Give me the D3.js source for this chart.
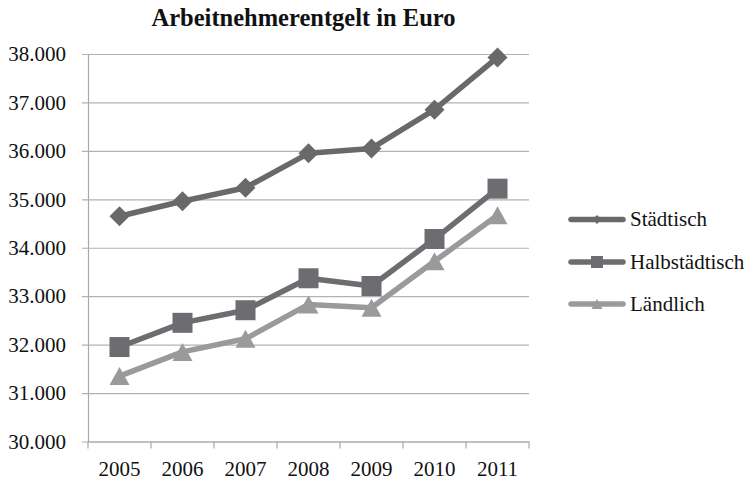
<!DOCTYPE html>
<html><head><meta charset="utf-8">
<script src="https://cdn.jsdelivr.net/npm/d3@7"></script>
<style>body{margin:0;background:#fff}svg{display:block}
text{font-family:"Liberation Serif","DejaVu Serif",serif}</style>
</head><body><svg id="c" width="751" height="480"></svg>
<script>
const years = ["2005","2006","2007","2008","2009","2010","2011"];
const staedtisch = [34650, 34960, 35240, 35950, 36050, 36850, 37930];
const halbstaedtisch = [31950, 32450, 32710, 33370, 33210, 34180, 35220];
const laendlich = [31350, 31850, 32120, 32830, 32760, 33720, 34670];
const yTicks = [30000,31000,32000,33000,34000,35000,36000,37000,38000];
const seriesNames = ["Städtisch","Halbstädtisch","Ländlich"];
const title = "Arbeitnehmerentgelt in Euro";

(function(){
const series = [
  {name: seriesNames[0], values: staedtisch, color: "#69696c", marker: "diamond"},
  {name: seriesNames[1], values: halbstaedtisch, color: "#6d6d71", marker: "square"},
  {name: seriesNames[2], values: laendlich, color: "#9a9a9c", marker: "triangle"}
];

const svg = d3.select("#c");
const pLeft = 88, pRight = 529, pTop = 54, pBottom = 441.5;
const fs = "21px";

const x = d3.scaleBand().domain(years).range([pLeft, pRight]).padding(0);
const y = d3.scaleLinear().domain([30000, 38000]).range([pBottom, pTop]);
const fmt = d => d3.format(",")(d).replace(/,/g, ".");

svg.append("text").attr("x", 303.5).attr("y", 26).attr("text-anchor", "middle")
  .style("font-weight", "bold").style("font-size", "24.5px")
  .attr("fill", "#111").text(title);

const ya = svg.append("g").attr("transform", `translate(${pLeft},0)`)
  .call(d3.axisLeft(y).tickValues(yTicks).tickFormat(fmt).tickSize(-(pRight-pLeft)).tickSizeOuter(0).tickPadding(22));
ya.attr("font-family", null).attr("font-size", null);
ya.select(".domain").attr("stroke", "#a8a8a8").attr("stroke-width", 1.2);
ya.selectAll(".tick line").attr("stroke", "#b2b2b2").attr("x1", -6).attr("stroke-width", 1.2);
ya.selectAll(".tick text").style("font-size", fs).attr("fill", "#111");

const xa = svg.append("g").attr("transform", `translate(0,${pBottom})`)
  .call(d3.axisBottom(x).tickSize(0).tickPadding(20));
xa.attr("font-family", null).attr("font-size", null);
xa.select(".domain").attr("stroke", "#a8a8a8").attr("stroke-width", 1.2);
xa.selectAll(".tick text").style("font-size", fs).attr("fill", "#111");
const edges = years.map(yv => x(yv)).concat([pRight]);
svg.append("g").selectAll("line").data(edges).join("line")
  .attr("x1", d => d).attr("x2", d => d).attr("y1", pBottom).attr("y2", pBottom + 7)
  .attr("stroke", "#a8a8a8").attr("stroke-width", 1.2);

const cx = i => x(years[i]) + x.bandwidth() / 2;
const line = d3.line().x((d, i) => cx(i)).y(d => y(d));

function markerPath(type, s) {
  if (type === "diamond") return `M0,${-s}L${s},0L0,${s}L${-s},0Z`;
  if (type === "square") return `M${-s},${-s}H${s}V${s}H${-s}Z`;
  return `M0,${-s*0.9}L${s},${s*0.9}L${-s},${s*0.9}Z`;
}
const mSize = {diamond: 10, square: 10, triangle: 10};

series.forEach(s => {
  const g = svg.append("g");
  g.append("path").attr("d", line(s.values)).attr("fill", "none")
    .attr("stroke", s.color).attr("stroke-width", 5.5).attr("stroke-linejoin", "round");
  g.selectAll("path.m").data(s.values).join("path").attr("class", "m")
    .attr("transform", (d, i) => `translate(${cx(i)},${y(d)})`)
    .attr("d", markerPath(s.marker, mSize[s.marker])).attr("fill", s.color);
});

const legY = [219.5, 262, 304];
const lsize = {diamond: 4.5, square: 6, triangle: 5.5};
series.forEach((s, i) => {
  const g = svg.append("g").attr("transform", `translate(0,${legY[i]})`);
  g.append("line").attr("x1", 571).attr("x2", 623).attr("y1", 0).attr("y2", 0)
    .attr("stroke", s.color).attr("stroke-width", 5.5).attr("stroke-linecap", "round");
  g.append("path").attr("transform", "translate(597,0)").attr("d", markerPath(s.marker, lsize[s.marker])).attr("fill", s.color);
  g.append("text").attr("x", 630).attr("y", 6.5).style("font-size", fs)
    .attr("fill", "#111").text(s.name);
});
})();
</script></body></html>
